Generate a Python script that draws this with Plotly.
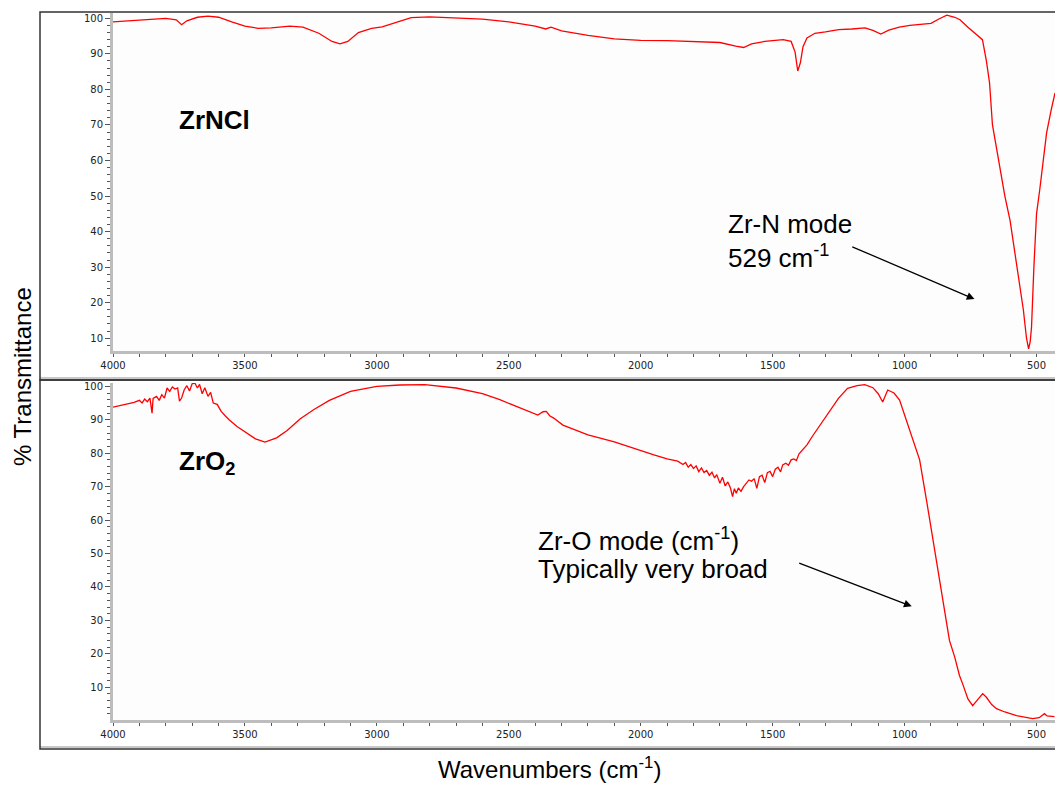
import plotly.graph_objects as go

# ---- ZrNCl spectrum (wavenumber cm-1, % transmittance) ----
zrncl_wn = [4000, 3950, 3900, 3850, 3800, 3760, 3740, 3720, 3680, 3640, 3600, 3550,
            3500, 3450, 3400, 3330, 3280, 3220, 3170, 3140, 3110, 3070, 3020, 2980,
            2930, 2870, 2800, 2700, 2600, 2500, 2400, 2360, 2340, 2300, 2200, 2100,
            2000, 1900, 1800, 1700, 1640, 1610, 1580, 1530, 1460, 1430, 1415, 1405,
            1395, 1385, 1370, 1340, 1300, 1250, 1200, 1150, 1120, 1090, 1060, 1020,
            980, 950, 900, 870, 840, 810, 790, 760, 720, 705, 690, 678, 667, 655,
            640, 620, 600, 580, 564, 550, 538, 530, 524, 519, 510, 500, 488, 475,
            462, 445, 430]
zrncl_t = [99.0, 99.3, 99.6, 99.8, 100.0, 99.6, 98.2, 99.3, 100.3, 100.6, 100.3, 99.0,
           97.8, 97.2, 97.3, 97.8, 97.5, 95.8, 93.5, 92.8, 93.5, 96.0, 97.2, 97.6,
           98.8, 100.2, 100.4, 100.2, 99.8, 99.0, 97.8, 97.0, 97.5, 96.5, 95.2, 94.2,
           93.8, 93.7, 93.5, 93.2, 92.2, 91.8, 92.8, 93.5, 94.0, 93.5, 90.5, 85.2,
           87.5, 92.0, 94.5, 95.8, 96.2, 96.8, 97.0, 97.3, 96.6, 95.6, 96.7, 97.5,
           98.0, 98.2, 98.6, 99.8, 100.9, 100.3, 99.6, 97.5, 95.0, 94.0, 88.0, 81.8,
           70.0, 65.0, 58.0, 50.0, 43.0, 33.0, 25.5, 18.0, 10.0, 7.0, 9.0, 13.1,
           30.0, 45.0, 51.7, 60.0, 67.7, 74.0, 79.0]

# ---- ZrO2 spectrum ----
zro2_wn = [4000, 3960, 3920, 3900, 3890, 3880, 3870, 3860, 3852, 3848, 3835, 3825,
           3815, 3805, 3795, 3785, 3775, 3765, 3755, 3748, 3740, 3730, 3720, 3710,
           3700, 3690, 3680, 3672, 3662, 3652, 3640, 3630, 3620, 3605, 3590, 3575,
           3560, 3530, 3500, 3460, 3424, 3380, 3340, 3290, 3240, 3180, 3100, 3000,
           2913, 2818, 2700, 2600, 2534, 2450, 2390, 2370, 2358, 2345, 2330, 2295,
           2200, 2100, 2030, 1950, 1900, 1860, 1840, 1830, 1820, 1810, 1800, 1790,
           1780, 1770, 1760, 1750, 1740, 1730, 1720, 1712, 1700, 1690, 1680, 1670,
           1660, 1652, 1645, 1638, 1630, 1620, 1610, 1600, 1590, 1580, 1570, 1560,
           1550, 1540, 1530, 1520, 1510, 1500, 1490, 1480, 1470, 1462, 1450, 1440,
           1430, 1420, 1410, 1400, 1386, 1370, 1350, 1320, 1300, 1273, 1250, 1216,
           1180, 1151, 1120, 1100, 1083, 1064, 1040, 1019, 993, 970, 943, 915, 886,
           858, 830, 810, 792, 780, 760, 742, 725, 704, 690, 670, 652, 620, 576,
           540, 515, 490, 478, 470, 460, 432]
zro2_t = [93.8, 94.5, 95.2, 95.8, 95.0, 96.2, 95.4, 96.5, 92.0, 96.4, 97.0, 95.8,
          97.5, 96.5, 99.5, 98.5, 99.8, 99.2, 99.5, 95.6, 96.5, 99.0, 100.2, 98.6,
          100.8, 101.0, 99.5, 100.6, 97.8, 99.6, 97.0, 98.2, 95.0, 94.6, 92.5, 91.2,
          90.0, 88.0, 86.3, 84.3, 83.3, 84.6, 86.8, 90.3, 93.0, 95.8, 98.5, 100.0,
          100.4, 100.5, 99.5, 97.8, 96.0, 93.3, 91.4, 92.4, 92.5, 91.2, 90.5, 88.4,
          85.5, 83.4, 81.5, 79.5, 78.3, 77.6, 76.6, 77.2, 75.8, 76.6, 75.4, 76.2,
          74.5, 75.6, 74.2, 74.8, 73.4, 74.3, 72.6, 73.6, 71.0, 72.8, 70.2, 71.4,
          69.6, 67.0, 69.4, 68.0, 69.6, 68.6, 70.0, 71.2, 72.0, 71.6, 72.4, 69.5,
          73.0, 73.4, 71.2, 74.2, 74.6, 73.0, 75.2, 75.8, 74.4, 76.5, 77.0, 76.4,
          78.0, 78.3, 77.8, 79.8, 81.0, 82.5, 85.0, 88.5, 90.8, 94.0, 96.5, 99.4,
          100.2, 100.5, 99.6, 97.8, 95.3, 98.9, 98.0, 95.9, 89.9, 84.5, 78.0, 65.0,
          51.0, 37.0, 24.0, 19.0, 13.5, 11.0, 6.5, 4.5, 6.0, 8.1, 7.0, 4.8, 3.6,
          2.6, 1.5, 0.9, 0.6, 0.9, 1.6, 2.1, 1.4, 1.2]

# axis ticks
x_tick_step = 500
y_tick_vals = [10, 20, 30, 40, 50, 60, 70, 80, 90, 100]

W, H = 1055, 786


def px(x):
    return x / W


def py(y):
    return 1 - y / H


RED = "#FF0000"
AXIS_GRAY = "#BDBDBD"
FONT = "Arial, Liberation Sans, sans-serif"
TICK_FONT = dict(family="DejaVu Sans, sans-serif", size=10, color="#222222")

fig = go.Figure()
fig.add_trace(go.Scatter(x=zrncl_wn, y=zrncl_t, mode="lines",
                         line=dict(color=RED, width=1.3), xaxis="x", yaxis="y",
                         showlegend=False, hoverinfo="skip"))
fig.add_trace(go.Scatter(x=zro2_wn, y=zro2_t, mode="lines",
                         line=dict(color=RED, width=1.3), xaxis="x2", yaxis="y2",
                         showlegend=False, hoverinfo="skip"))

xaxis_common = dict(
    range=[4000, 430], tickmode="linear", tick0=0, dtick=x_tick_step,
    showgrid=False, zeroline=False, showline=True, linecolor=AXIS_GRAY, linewidth=3,
    ticks="outside", ticklen=3, tickcolor="#555555", tickwidth=1,
    tickfont=TICK_FONT, automargin=False,
    minor=dict(dtick=100, ticklen=3, tickcolor="#555555", showgrid=False),
    domain=[px(113), 1.0],
)
yaxis_common = dict(
    tickmode="array", tickvals=y_tick_vals,
    showgrid=False, zeroline=False, showline=True, linecolor=AXIS_GRAY, linewidth=3,
    ticks="outside", ticklen=5, tickcolor="#555555", tickwidth=1,
    tickfont=TICK_FONT, automargin=False,
    minor=dict(tickmode="linear", tick0=0, dtick=2, ticklen=3, tickcolor="#555555",
               showgrid=False),
)

fig.update_layout(
    width=W, height=H, autosize=False,
    margin=dict(l=0, r=0, t=0, b=0, pad=0),
    paper_bgcolor="white", plot_bgcolor="#FDFDFD",
    xaxis=dict(**xaxis_common, anchor="y"),
    yaxis=dict(**yaxis_common, range=[6.4, 101.5], domain=[py(351), py(13)],
               anchor="x"),
    xaxis2=dict(**xaxis_common, anchor="y2"),
    yaxis2=dict(**yaxis_common, range=[0.2, 101], domain=[py(720), py(383)],
                anchor="x2"),
)

# panel frames
for top, bottom in [(12, 380), (380, 749)]:
    fig.add_shape(type="line", xref="paper", yref="paper",
                  x0=px(40), x1=1.02, y0=py(bottom - 2), y1=py(bottom - 2),
                  line=dict(color="#C8C8C8", width=2))
    fig.add_shape(type="rect", xref="paper", yref="paper",
                  x0=px(40), x1=1.02, y0=py(bottom), y1=py(top),
                  line=dict(color="#333333", width=1.5))


def label(x, y, text, size, xref="paper", yref="paper", **kw):
    fig.add_annotation(x=x, y=y, xref=xref, yref=yref, text=text, showarrow=False,
                       xanchor=kw.pop("xanchor", "left"), yanchor=kw.pop("yanchor", "middle"),
                       font=dict(family=FONT, size=size, color="black"), **kw)


# sample labels
label(px(177), py(120), "<b>ZrNCl</b>", 26)
label(px(177), py(462), "<b>ZrO<sub>2</sub></b>", 26)

# band assignments
label(px(726), py(224), "Zr-N mode", 26)
label(px(726), py(256), "529 cm<sup>-1</sup>", 26)
fig.add_annotation(x=735, y=21.0, ax=1204, ay=35.9, xref="x", yref="y",
                   axref="x", ayref="y", text="", showarrow=True,
                   arrowhead=2, arrowsize=1.2, arrowwidth=1.3, arrowcolor="black")

label(px(536), py(539), "Zr-O mode (cm<sup>-1</sup>)", 26)
label(px(536), py(569), "Typically very broad", 26)
fig.add_annotation(x=973, y=34.2, ax=1405, ay=47.3, xref="x2", yref="y2",
                   axref="x2", ayref="y2", text="", showarrow=True,
                   arrowhead=2, arrowsize=1.2, arrowwidth=1.3, arrowcolor="black")

# axis titles
label(px(22), py(377), "% Transmittance", 24, textangle=-90, xanchor="center")
label(px(549), py(768), "Wavenumbers (cm<sup>-1</sup>)", 24, xanchor="center")

fig.write_html("out.html")
